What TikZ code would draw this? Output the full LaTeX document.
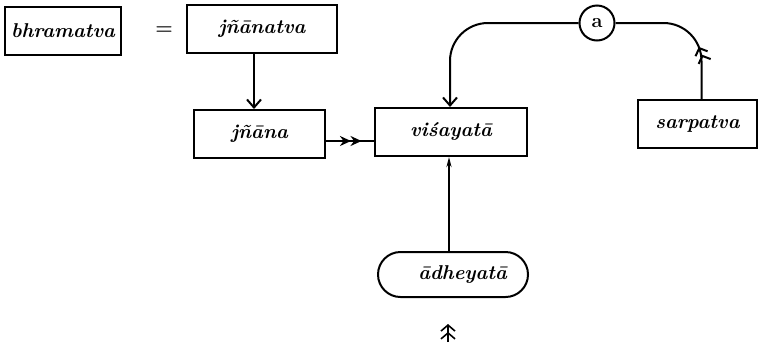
\documentclass[tikz,border=0pt]{standalone}
\usepackage{fontspec}
\usetikzlibrary{arrows.meta,decorations.markings,shapes.misc}
\tikzset{
  mytip/.tip={Straight Barb[length=8pt,width=14pt,line width=2pt]},
  myftip/.tip={Stealth[length=11pt,width=10pt]},
  mydbl/.tip={Straight Barb[length=6pt,width=13pt]Straight Barb[length=6pt,width=13pt]}
}
\begin{document}
\begin{tikzpicture}[x=1pt,y=-1pt,line width=2pt,
  box/.style={draw,rectangle,inner sep=0pt,font=\fontsize{20}{24}\selectfont\bfseries\itshape},
  cnode/.style={draw,circle,inner sep=0pt,minimum size=35pt,font=\fontsize{20}{22}\selectfont\bfseries},
  rbox/.style={draw,rounded rectangle,inner sep=0pt,font=\fontsize{20}{24}\selectfont\bfseries\itshape}]
\useasboundingbox (0,0) rectangle (760,349);
\node[box,minimum width=116pt,minimum height=48pt] (bhr) at (63,31) {bhramatva};
\node[font=\fontsize{20}{24}\selectfont\bfseries] (eq) at (164,31) {=};
\node[box,minimum width=150pt,minimum height=48pt] (jnv) at (262,29) {jñānatva};
\node[box,minimum width=131pt,minimum height=48pt] (jn) at (259.5,134) {jñāna};
\node[box,minimum width=152pt,minimum height=48pt] (vis) at (451,132) {viśayatā};
\node[box,minimum width=119pt,minimum height=48pt] (sarp) at (697.5,124) {sarpatva};
\node[cnode] (a) at (597,23) {a};
\node[rbox,minimum width=150pt,minimum height=45pt,text width=108pt,align=right] (adh) at (453,274.5) {ādheyatā};
\draw[-{mytip}] ([xshift=-8]jnv.south) -- ([xshift=-8]jnv.south |- jn.north);
\draw[decoration={markings,
   mark=at position 0.52 with {\arrow{myftip}},
   mark=at position 0.74 with {\arrow{myftip}}},postaction=decorate]
   ([yshift=-7]jn.east) -- ([yshift=-7]jn.east -| vis.west);
\draw[-{mytip},rounded corners=38pt] (a.west) -| ([xshift=-1]vis.north);
\draw[rounded corners=38pt,decoration={markings,
   mark=at position 0.36 with {\arrow{mydbl}}},postaction=decorate]
   ([xshift=4]sarp.north) |- (a.east);
\draw[-{Stealth[length=10pt,width=5pt]}] ([xshift=-4]adh.north) -- ([xshift=-4]adh.north |- vis.south);
\coordinate (s1) at (448,342);
\coordinate (s2) at (448,324);
\draw[line width=1.6pt,-{Straight Barb[length=6pt,width=14pt]Straight Barb[length=6pt,width=14pt]}] (s1) -- (s2);
\end{tikzpicture}
\end{document}
